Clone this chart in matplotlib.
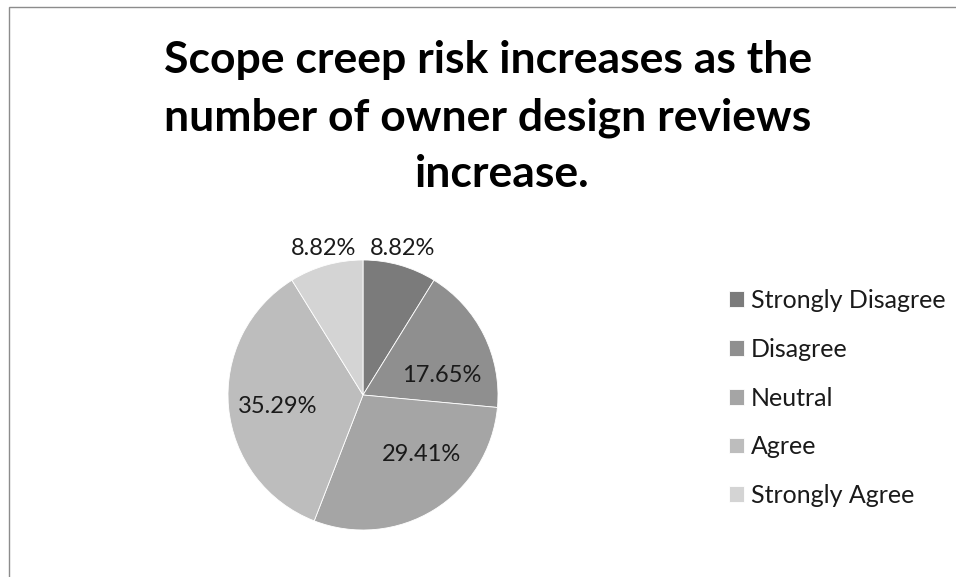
import matplotlib
matplotlib.use('Agg')
import matplotlib.pyplot as plt
from matplotlib.patches import Rectangle

plt.rcParams['font.family'] = ['Lato', 'DejaVu Sans']

TITLE_LINES = ["Scope creep risk increases as the", "number of owner design reviews", "increase."]
CATEGORIES = ["Strongly Disagree", "Disagree", "Neutral", "Agree", "Strongly Agree"]
SHARES = [8.82, 17.65, 29.41, 35.29, 8.82]
COLORS = ["#7b7b7b", "#8f8f8f", "#a5a5a5", "#bdbdbd", "#d4d4d4"]

# label anchor points (data units, pie radius = 1), baseline-aligned
LABEL_POS = [(0.29, 1.04), (0.58, 0.10), (0.43, -0.49), (-0.63, -0.13), (-0.29, 1.04)]

W, H = 956, 577
fig = plt.figure(figsize=(W / 100, H / 100), dpi=100)

# outer chart frame (right and bottom edges fall outside the canvas)
fig.add_artist(Rectangle((8.5 / W, -0.1), 1.2, 1.1 - 7.5 / H, transform=fig.transFigure,
                         fill=False, edgecolor="#8c8c8c", linewidth=1.0))

cx, cy, r = 363, 395, 135
ax = fig.add_axes([(cx - r) / W, (H - cy - r) / H, 2 * r / W, 2 * r / H])
wedges, _ = ax.pie(SHARES, colors=COLORS, startangle=90, counterclock=False, radius=1,
                   wedgeprops=dict(edgecolor="white", linewidth=0.6))
ax.set_xlim(-1, 1)
ax.set_ylim(-1, 1)
ax.set_aspect('auto')
ax.axis('off')

for val, (lx, ly) in zip(SHARES, LABEL_POS):
    ax.text(lx, ly, f"{val:.2f}%", ha='center', va='baseline', fontsize=17,
            color="#1a1a1a", clip_on=False)

# title, one line at a time (pixel x-centre, baseline)
for line, (tx, ty) in zip(TITLE_LINES, [(488, 73), (488, 131), (502, 187)]):
    fig.text(tx / W, 1 - ty / H, line, ha='center', va='baseline', fontsize=32,
             fontweight='bold', color="black")

leg = fig.legend(wedges, CATEGORIES, loc='upper left', bbox_to_anchor=(729 / W, 1 - 289 / H),
                 frameon=False, fontsize=18, handlelength=0.6, handleheight=0.6,
                 handletextpad=0.28, labelspacing=1.03, borderpad=0, borderaxespad=0)
for t in leg.get_texts():
    t.set_color("#1a1a1a")

fig.savefig("out.png", dpi=100, facecolor="white")
